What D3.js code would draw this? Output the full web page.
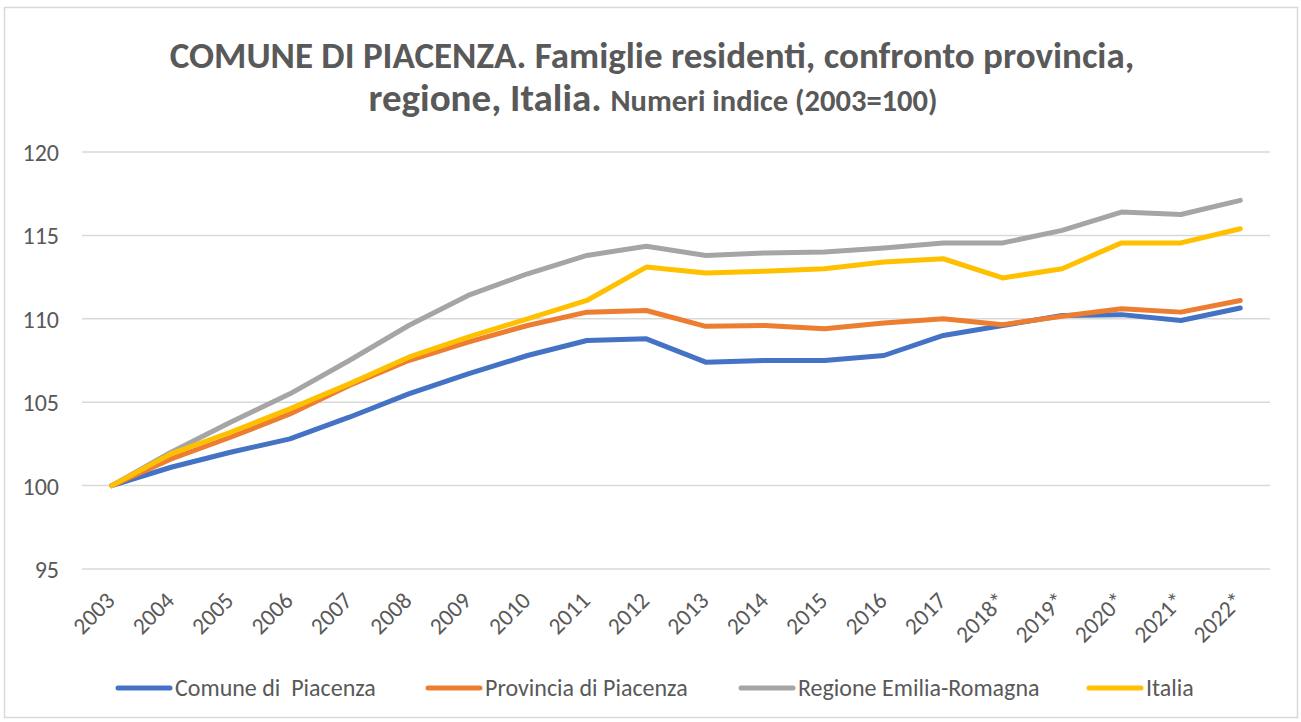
<!DOCTYPE html>
<html>
<head>
<meta charset="utf-8">
<script src="https://cdn.jsdelivr.net/npm/d3@7"></script>
<style>
  body { margin: 0; background: #fff; }
  text { font-family: Carlito, Calibri, Lato, sans-serif; fill: #595959; }
</style>
</head>
<body>
<svg id="chart" width="1301" height="722"></svg>
<script>
// Data
const years = ["2003", "2004", "2005", "2006", "2007", "2008", "2009", "2010", "2011", "2012",
  "2013", "2014", "2015", "2016", "2017", "2018*", "2019*", "2020*", "2021*", "2022*"];
const comune = [100, 101.1, 102.0, 102.8, 104.1, 105.5, 106.7, 107.8, 108.7, 108.8,
  107.4, 107.5, 107.5, 107.8, 109.0, 109.6, 110.2, 110.25, 109.9, 110.65];
const provincia = [100, 101.6, 102.9, 104.3, 106.0, 107.5, 108.6, 109.6, 110.4, 110.5,
  109.55, 109.6, 109.4, 109.75, 110.0, 109.65, 110.15, 110.6, 110.4, 111.1];
const regione = [100, 102.0, 103.8, 105.5, 107.5, 109.6, 111.4, 112.7, 113.8, 114.35,
  113.8, 113.95, 114.0, 114.25, 114.55, 114.55, 115.3, 116.4, 116.25, 117.1];
const italia = [100, 101.9, 103.2, 104.6, 106.1, 107.7, 108.9, 110.0, 111.1, 113.1,
  112.75, 112.85, 113.0, 113.4, 113.6, 112.45, 113.0, 114.55, 114.55, 115.4];
const yTicks = [95, 100, 105, 110, 115, 120];

const seriesNames = ["Comune di  Piacenza", "Provincia di Piacenza", "Regione Emilia-Romagna", "Italia"];
const seriesColors = ["#4472C4", "#ED7D31", "#A5A5A5", "#FFC000"];
const series = [comune, provincia, regione, italia].map((values, i) => ({
  name: seriesNames[i], color: seriesColors[i], values
}));

const svg = d3.select("#chart");

// outer chart frame
svg.append("rect")
  .attr("x", 4.5).attr("y", 7.5)
  .attr("width", 1293).attr("height", 710)
  .attr("fill", "#fff")
  .attr("stroke", "#D9D9D9")
  .attr("stroke-width", 1.5);

// plot area
const plot = { left: 82, right: 1270, top: 152, bottom: 569 };

const x = d3.scalePoint().domain(years).range([plot.left, plot.right]).padding(0.5);
const y = d3.scaleLinear().domain([95, 120]).range([plot.bottom, plot.top]);

// gridlines
svg.append("g")
  .selectAll("line")
  .data(yTicks)
  .join("line")
  .attr("x1", plot.left).attr("x2", plot.right)
  .attr("y1", d => y(d)).attr("y2", d => y(d))
  .attr("stroke", "#D9D9D9")
  .attr("stroke-width", 1.5);

// y axis labels
const yAxis = svg.append("g")
  .attr("transform", `translate(${plot.left - 23},0)`)
  .call(d3.axisLeft(y).tickValues(yTicks).tickSize(0).tickPadding(0));
yAxis.select(".domain").remove();
yAxis.selectAll("text")
  .style("font-size", "24px")
  .attr("fill", "#595959")
  .attr("dy", "0.35em");

// x axis labels, rotated 45 degrees
const xAxis = svg.append("g")
  .attr("transform", `translate(0,${plot.bottom})`)
  .call(d3.axisBottom(x).tickSize(0).tickPadding(0));
xAxis.select(".domain").remove();
xAxis.selectAll("text")
  .style("font-size", "23.5px")
  .attr("fill", "#595959")
  .attr("text-anchor", "end")
  .attr("y", 0)
  .attr("dy", 0)
  .attr("transform", "translate(4,33) rotate(-45)");

// lines
const line = d3.line()
  .x((d, i) => x(years[i]))
  .y(d => y(d));

svg.append("g")
  .selectAll("path")
  .data(series)
  .join("path")
  .attr("d", d => line(d.values))
  .attr("fill", "none")
  .attr("stroke", d => d.color)
  .attr("stroke-width", 5)
  .attr("stroke-linejoin", "round")
  .attr("stroke-linecap", "round");

// title
const title = svg.append("text")
  .attr("text-anchor", "middle")
  .style("font-weight", "bold");
title.append("tspan")
  .attr("x", 652).attr("y", 68)
  .style("font-size", "37px")
  .text("COMUNE DI PIACENZA. Famiglie residenti, confronto provincia,");
const line2 = title.append("tspan")
  .attr("x", 653).attr("y", 111);
line2.append("tspan").style("font-size", "39px").text("regione, Italia. ");
line2.append("tspan").style("font-size", "30.5px").text("Numeri indice (2003=100)");

// legend
const legendX = [116, 426, 739, 1087];
const legend = svg.append("g")
  .selectAll("g")
  .data(series)
  .join("g")
  .attr("transform", (d, i) => `translate(${legendX[i]},688)`);
legend.append("line")
  .attr("x1", 2).attr("x2", 54)
  .attr("stroke", d => d.color)
  .attr("stroke-width", 5)
  .attr("stroke-linecap", "round");
legend.append("text")
  .attr("x", 59)
  .attr("dy", "0.35em")
  .style("font-size", "24px")
  .style("white-space", "pre")
  .attr("xml:space", "preserve")
  .text(d => d.name);
</script>
</body>
</html>
